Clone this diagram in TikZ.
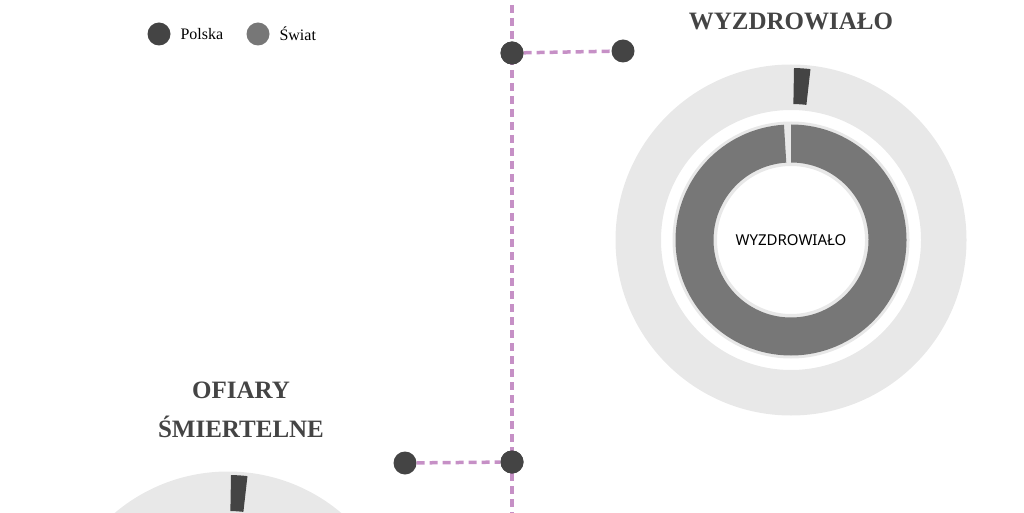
\documentclass[tikz,border=0pt]{standalone}
\usepackage{fontspec}
\setmainfont{Liberation Serif}
\newfontfamily\labfont{Noto Sans}
\definecolor{pl}{HTML}{444444}
\definecolor{sw}{HTML}{777777}
\definecolor{lg}{HTML}{E8E8E8}
\definecolor{pu}{HTML}{C690C6}
\begin{document}
\begin{tikzpicture}[x=1pt,y=1pt,
  dot/.style={circle,fill=pl,minimum size=23pt,inner sep=0pt},
  link/.style={pu,line width=3.5pt,dash pattern=on 8pt off 5pt},
  title/.style={font=\bfseries\fontsize{25}{39}\selectfont,text=pl,align=center}]
\useasboundingbox (0,0) rectangle (1024,512);
\foreach \cx/\cy in {791/272,228/-135}{
  \begin{scope}[shift={(\cx,\cy)}]
  \fill[lg,even odd rule] (0,0) circle (175.5) (0,0) circle (130);
  \fill[pl] (89:172) arc[start angle=89,end angle=83.5,radius=172] -- (83.5:136) arc[start angle=83.5,end angle=89,radius=136] -- cycle;
  \fill[lg,even odd rule] (0,0) circle (118.5) (0,0) circle (74);
  \fill[sw] (90:115.5) arc[start angle=90,end angle=-266.5,radius=115.5] -- (-266.5:77.5) arc[start angle=-266.5,end angle=90,radius=77.5] -- cycle;
  \end{scope}}
\node[font=\labfont\bfseries\fontsize{15}{18}\selectfont] (lab) at (791,272) {WYZDROWIAŁO};
\node[title] (t1) at (791,491) {WYZDROWIAŁO};
\node[title] (t2) at (241,102) {OFIARY\\ŚMIERTELNE};
\coordinate (top) at (512,520);
\coordinate (bot) at (512,-8);
\draw[link] (top) -- (bot);
\node[dot] (a1) at (512,459) {};
\node[dot] (a2) at (623,461) {};
\node[dot] (b1) at (405,49) {};
\node[dot] (b2) at (512,50) {};
\draw[link] (a1) -- (a2);
\draw[link] (b1) -- (b2);
\node[dot] (a1b) at (512,459) {};
\node[dot] (b2b) at (512,50) {};
\node[dot] (l1) at (159,478) {};
\node[dot,fill=sw] (l2) at (258,478) {};
\node[anchor=west,font=\fontsize{16}{19}\selectfont] (lt1) at (177,478) {Polska};
\node[anchor=west,font=\fontsize{16}{19}\selectfont] (lt2) at (276,478) {Świat};
\end{tikzpicture}
\end{document}
